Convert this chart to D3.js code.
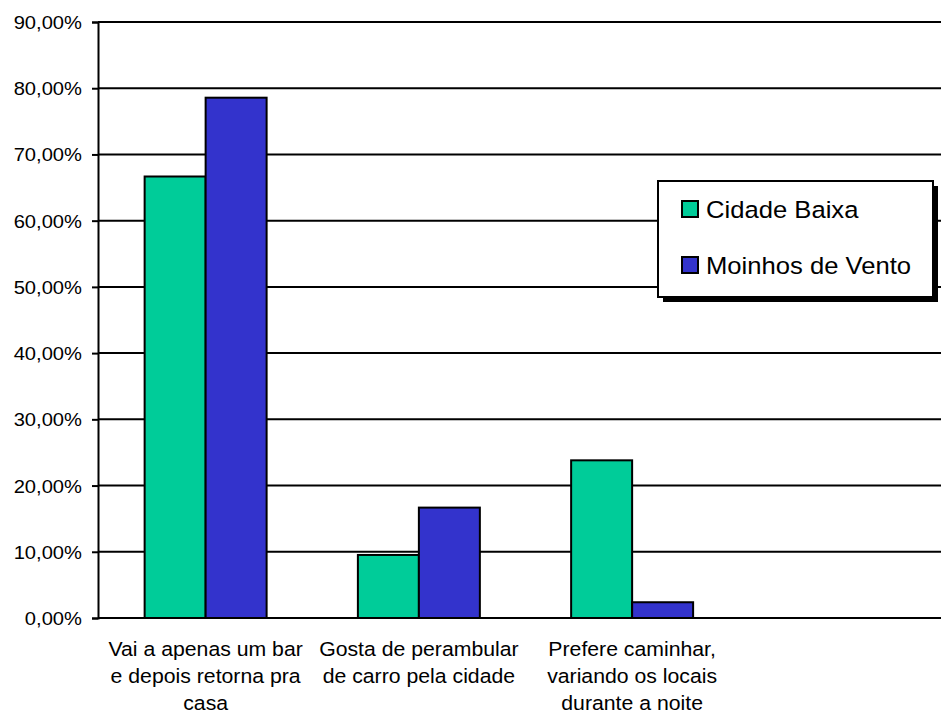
<!DOCTYPE html>
<html>
<head>
<meta charset="utf-8">
<script src="https://cdn.jsdelivr.net/npm/d3@7"></script>
<style>
  html, body { margin: 0; padding: 0; background: #fff; }
  svg { display: block; }
  text { font-family: "Liberation Sans", Arial, sans-serif; fill: #000; }
</style>
</head>
<body>
<svg id="chart" width="941" height="713"></svg>
<script>
// Category labels (one entry per line); the last slot is left empty
const categories = [
  ["Vai a apenas um bar", "e depois retorna pra", "casa"],
  ["Gosta de perambular", "de carro pela cidade"],
  ["Prefere caminhar,", "variando os locais", "durante a noite"],
  []
];
const seriesNames = ["Cidade Baixa", "Moinhos de Vento"];
const seriesColors = ["#00CC99", "#3333CC"];
const cidadeBaixa = [0.6667, 0.0952, 0.2381, null];
const moinhosDeVento = [0.7857, 0.1667, 0.0238, null];
const yTicks = [0, 0.1, 0.2, 0.3, 0.4, 0.5, 0.6, 0.7, 0.8, 0.9];

const series = [cidadeBaixa, moinhosDeVento];

const svg = d3.select("#chart");
const plot = { left: 98, right: 951, top: 22, bottom: 618 };

const x0 = d3.scaleBand()
  .domain(d3.range(categories.length))
  .range([plot.left, plot.right])
  .paddingInner(0.428)
  .paddingOuter(0.214);

const x1 = d3.scaleBand()
  .domain(d3.range(series.length))
  .range([0, x0.bandwidth()]);

const y = d3.scaleLinear().domain([0, 0.9]).range([plot.bottom, plot.top]);

const fmt = v => d3.format(".2f")(v * 100).replace(".", ",") + "%";

// horizontal gridlines
svg.append("g")
  .selectAll("line")
  .data(yTicks.filter(t => t > 0))
  .join("line")
  .attr("x1", plot.left).attr("x2", plot.right)
  .attr("y1", d => y(d)).attr("y2", d => y(d))
  .attr("stroke", "#000").attr("stroke-width", 2);

// bars
const groups = svg.append("g")
  .selectAll("g")
  .data(categories.map((c, i) => i))
  .join("g")
  .attr("transform", i => `translate(${x0(i) + 1},0)`);

groups.selectAll("rect")
  .data(i => series.map((s, k) => ({ k, v: s[i] })).filter(d => d.v != null))
  .join("rect")
  .attr("x", d => x1(d.k))
  .attr("width", x1.bandwidth())
  .attr("y", d => y(d.v))
  .attr("height", d => y(0) - y(d.v))
  .attr("fill", d => seriesColors[d.k])
  .attr("stroke", "#000")
  .attr("stroke-width", 2);

// y axis
const yAxis = svg.append("g")
  .attr("transform", `translate(${plot.left},0)`)
  .call(d3.axisLeft(y).tickValues(yTicks).tickFormat(fmt).tickSize(6).tickPadding(10));
yAxis.select(".domain").attr("stroke", "#000").attr("stroke-width", 2);
yAxis.selectAll(".tick line").attr("stroke", "#000").attr("stroke-width", 2);
yAxis.selectAll(".tick text")
  .attr("font-size", 18)
  .attr("font-family", "Liberation Sans, Arial, sans-serif")
  .attr("dy", "0.36em")
  .attr("transform", "scale(1.12,1)")
  .attr("x", -16 / 1.12);

// x axis baseline
svg.append("line")
  .attr("x1", plot.left).attr("x2", plot.right)
  .attr("y1", y(0)).attr("y2", y(0))
  .attr("stroke", "#000").attr("stroke-width", 2);

// category labels
const labels = svg.append("g")
  .selectAll("text")
  .data(categories.map((lines, i) => ({ lines, i })))
  .join("text")
  .attr("text-anchor", "middle")
  .attr("font-size", 19.5)
  .attr("transform", d => `translate(${x0(d.i) + x0.bandwidth() / 2 + 1},${y(0) + 38}) scale(1.09,1)`);
labels.selectAll("tspan")
  .data(d => d.lines)
  .join("tspan")
  .attr("x", 0)
  .attr("y", (d, j) => j * 27)
  .text(d => d);

// legend
const legend = svg.append("g").attr("transform", "translate(658,181)");
const lw = 275, lh = 116;
legend.append("rect")
  .attr("x", 5).attr("y", 5).attr("width", lw).attr("height", lh)
  .attr("fill", "#000");
legend.append("rect")
  .attr("width", lw).attr("height", lh)
  .attr("fill", "#fff").attr("stroke", "#000").attr("stroke-width", 2);
const items = legend.selectAll("g.item")
  .data(seriesNames.map((n, k) => ({ n, k })))
  .join("g")
  .attr("class", "item")
  .attr("transform", d => `translate(24,${20 + d.k * 56})`);
items.append("rect")
  .attr("width", 16).attr("height", 16)
  .attr("fill", d => seriesColors[d.k])
  .attr("stroke", "#000").attr("stroke-width", 2);
items.append("text")
  .attr("transform", "translate(24,16.5) scale(1.1,1)")
  .attr("font-size", 23.3)
  .text(d => d.n);
</script>
</body>
</html>
